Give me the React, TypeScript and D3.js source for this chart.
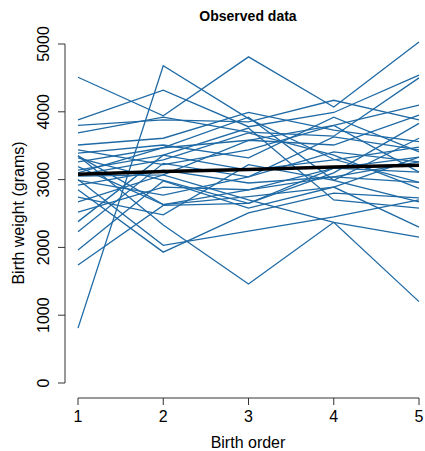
import React from "react";
import * as d3 from "d3";

const birthOrder = [1, 2, 3, 4, 5];
const yTicks = [0, 1000, 2000, 3000, 4000, 5000];

// each row: one mother, weights (grams) for births 1..5
const birthWeights: number[][] = [
  [810, 4680, 3900, 3300, 2960],
  [4510, 3940, 4810, 4070, 5030],
  [3880, 4320, 3780, 3990, 4540],
  [3800, 3880, 3850, 4170, 3880],
  [3690, 3920, 3700, 3640, 4500],
  [3510, 3610, 3990, 3730, 3560],
  [3440, 3220, 3440, 3800, 4100],
  [3390, 3510, 3320, 3920, 3410],
  [3320, 2990, 2650, 3100, 3830],
  [3260, 3470, 3580, 3510, 3950],
  [3190, 2630, 2750, 2890, 3330],
  [3140, 3360, 3140, 3290, 3480],
  [3070, 3290, 3690, 3360, 2870],
  [2990, 2770, 3040, 3410, 3260],
  [2920, 3140, 2950, 3040, 2960],
  [2850, 1930, 2510, 2800, 2730],
  [3000, 2030, 2240, 2450, 2700],
  [3350, 2330, 1460, 2370, 1200],
  [2670, 3070, 2700, 2370, 2150],
  [2740, 2480, 3220, 2990, 3610],
  [2520, 2890, 2850, 3170, 3110],
  [2380, 3360, 3760, 2700, 2580],
  [2230, 3240, 3040, 3630, 3440],
  [1960, 2980, 2580, 2890, 2300],
  [1740, 2620, 2650, 3170, 3330],
  [3100, 3470, 3920, 2990, 2670],
  [3350, 2630, 2850, 3040, 3260],
  [3050, 3070, 3580, 3800, 3110],
];

const meanWeight = [3080, 3120, 3150, 3185, 3210];

const W = 425;
const H = 451;

export default function App() {
  const x = d3.scaleLinear().domain([1, 5]).range([78, 419]);
  const y = d3.scaleLinear().domain([0, 5000]).range([383, 44]);
  const line = d3
    .line<number>()
    .x((_, i) => x(birthOrder[i]))
    .y((d) => y(d));

  const font = "Liberation Sans, Arial, Helvetica, sans-serif";
  const axisColor = "#333";

  return (
    <svg
      width={W}
      height={H}
      style={{ position: "absolute", left: 0, top: 0, background: "#fff" }}
      fontFamily={font}
    >
      <text x={248} y={21} textAnchor="middle" fontSize={14} fontWeight="bold">
        Observed data
      </text>

      {birthWeights.map((row, i) => (
        <path key={i} d={line(row) || ""} fill="none" stroke="#1f6aa5" strokeWidth={1.3} />
      ))}
      <path d={line(meanWeight) || ""} fill="none" stroke="#000" strokeWidth={3.5} />

      {/* y axis */}
      <line x1={65} x2={65} y1={y(0)} y2={y(5000)} stroke={axisColor} strokeWidth={1} />
      {yTicks.map((t) => (
        <g key={t}>
          <line x1={58} x2={65} y1={y(t)} y2={y(t)} stroke={axisColor} strokeWidth={1} />
          <text
            transform={`translate(49,${y(t)}) rotate(-90)`}
            textAnchor="middle"
            fontSize={16}
          >
            {t}
          </text>
        </g>
      ))}

      {/* x axis */}
      <line x1={x(1)} x2={x(5)} y1={398} y2={398} stroke={axisColor} strokeWidth={1} />
      {birthOrder.map((t) => (
        <g key={t}>
          <line x1={x(t)} x2={x(t)} y1={398} y2={405} stroke={axisColor} strokeWidth={1} />
          <text x={x(t)} y={422} textAnchor="middle" fontSize={16}>
            {t}
          </text>
        </g>
      ))}

      <text x={248} y={448} textAnchor="middle" fontSize={16}>
        Birth order
      </text>
      <text transform={`translate(24,213) rotate(-90)`} textAnchor="middle" fontSize={16}>
        Birth weight (grams)
      </text>
    </svg>
  );
}
